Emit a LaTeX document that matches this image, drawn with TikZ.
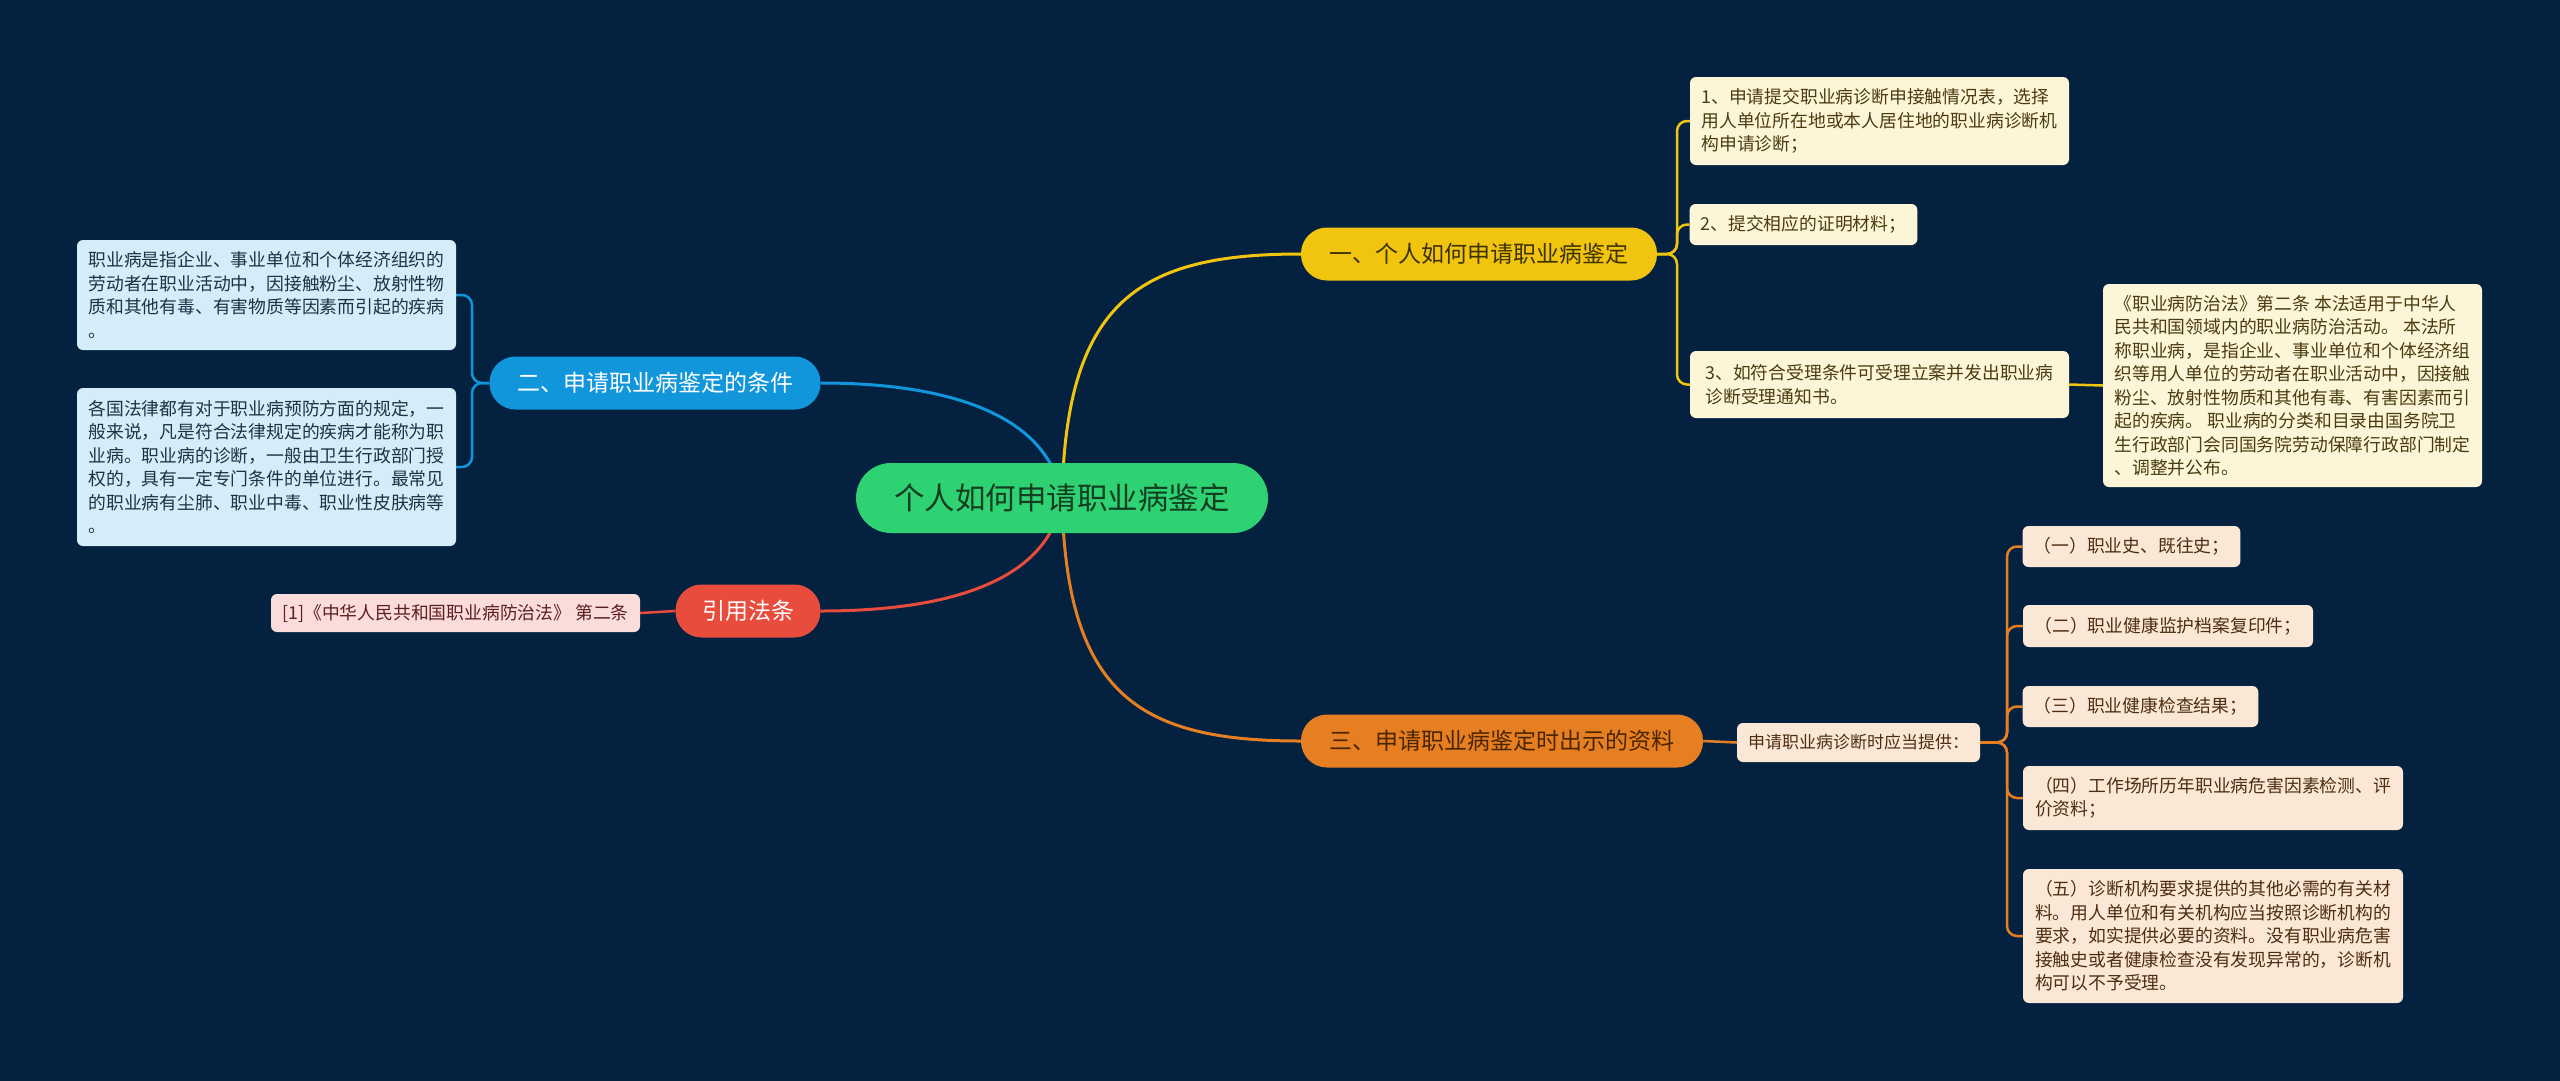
\documentclass[tikz,border=0pt]{standalone}
\usepackage{fontspec}
\setmainfont{Noto Sans CJK SC}
\usetikzlibrary{backgrounds}
\definecolor{bg}{HTML}{04223F}
\definecolor{cgreen}{HTML}{2ED273}
\definecolor{cgreentext}{HTML}{123D20}
\definecolor{cyellow}{HTML}{F1C40F}
\definecolor{cyellowtext}{HTML}{3D3300}
\definecolor{corange}{HTML}{E67E22}
\definecolor{corangetext}{HTML}{4A2500}
\definecolor{cblue}{HTML}{1296DB}
\definecolor{cred}{HTML}{E74C3C}
\definecolor{yfill}{HTML}{FDF5D8}
\definecolor{ytext}{HTML}{4A3C10}
\definecolor{bfill}{HTML}{D5EDF8}
\definecolor{btext}{HTML}{1C3347}
\definecolor{ofill}{HTML}{FBE7D6}
\definecolor{otext}{HTML}{4D2E12}
\definecolor{pfill}{HTML}{FADCDA}
\definecolor{ptext}{HTML}{5C1F1F}
\begin{document}
\begin{tikzpicture}[x=1pt,y=-1pt,
  leaf/.style={rounded corners=6pt, inner xsep=11pt, inner ysep=3pt, align=left,
    font=\fontsize{17.8}{23.5}\selectfont},
  yleaf/.style={leaf, fill=yfill, text=ytext},
  bleaf/.style={leaf, fill=bfill, text=btext},
  oleaf/.style={leaf, fill=ofill, text=otext},
  pleaf/.style={leaf, fill=pfill, text=ptext},
  pill/.style={inner sep=0pt, align=center, rounded corners=26pt, minimum height=53pt,
    font=\fontsize{23}{28}\selectfont},
  mainconn/.style={line width=3pt},
  conn/.style={line width=2.5pt, rounded corners=10pt}
]
\useasboundingbox (0,0) rectangle (2560,1080);
% nodes
\node[fill=cgreen, text=cgreentext, inner sep=0pt, rounded corners=35pt,
  minimum width=412pt, minimum height=70pt, font=\fontsize{30.5}{36}\selectfont]
  (c) at (1062,498) {个人如何申请职业病鉴定};

\node[pill, fill=cyellow, text=cyellowtext, minimum width=356pt] (yb) at (1479,254) {一、个人如何申请职业病鉴定};
\node[pill, fill=corange, text=corangetext, minimum width=402pt] (ob) at (1502,741) {三、申请职业病鉴定时出示的资料};
\node[pill, fill=cblue, text=white, minimum width=331pt] (bb) at (655,383) {二、申请职业病鉴定的条件};
\node[pill, fill=cred, text=white, minimum width=145pt] (rb) at (748,611) {引用法条};

\node[yleaf, minimum width=379pt, minimum height=88pt] (y1) at (1879.5,121)
  {1、申请提交职业病诊断申接触情况表，选择\\用人单位所在地或本人居住地的职业病诊断机\\构申请诊断；};
\node[yleaf, minimum width=227pt, minimum height=41pt] (y2) at (1803.5,224.5)
  {2、提交相应的证明材料；};
\node[yleaf, minimum width=379pt, minimum height=67pt] (y3) at (1879.5,384.5)
  {3、如符合受理条件可受理立案并发出职业病\\诊断受理通知书。};
\node[yleaf, minimum width=379pt, minimum height=203pt] (law) at (2292.5,385.5)
  {《职业病防治法》第二条 本法适用于中华人\\民共和国领域内的职业病防治活动。 本法所\\称职业病，是指企业、事业单位和个体经济组\\织等用人单位的劳动者在职业活动中，因接触\\粉尘、放射性物质和其他有毒、有害因素而引\\起的疾病。 职业病的分类和目录由国务院卫\\生行政部门会同国务院劳动保障行政部门制定\\、调整并公布。};

\node[bleaf, minimum width=379pt, minimum height=110pt] (b1) at (266.5,295)
  {职业病是指企业、事业单位和个体经济组织的\\劳动者在职业活动中，因接触粉尘、放射性物\\质和其他有毒、有害物质等因素而引起的疾病\\。};
\node[bleaf, minimum width=379pt, minimum height=158pt] (b2) at (266.5,467)
  {各国法律都有对于职业病预防方面的规定，一\\般来说，凡是符合法律规定的疾病才能称为职\\业病。职业病的诊断，一般由卫生行政部门授\\权的，具有一定专门条件的单位进行。最常见\\的职业病有尘肺、职业中毒、职业性皮肤病等\\。};

\node[pleaf, minimum width=369pt, minimum height=38pt] (p1) at (455.5,613)
  {[1]《中华人民共和国职业病防治法》 第二条};

\node[oleaf, minimum width=243pt, minimum height=39pt, font=\fontsize{17}{22}\selectfont] (sub) at (1858.5,742.5)
  {申请职业病诊断时应当提供：};
\node[oleaf, minimum width=217pt, minimum height=41pt] (o1) at (2131.5,546.5) {（一）职业史、既往史；};
\node[oleaf, minimum width=290pt, minimum height=42pt] (o2) at (2168,626) {（二）职业健康监护档案复印件；};
\node[oleaf, minimum width=235pt, minimum height=41pt] (o3) at (2140.5,706.5) {（三）职业健康检查结果；};
\node[oleaf, minimum width=380pt, minimum height=64pt] (o4) at (2213,798)
  {（四）工作场所历年职业病危害因素检测、评\\价资料；};
\node[oleaf, minimum width=380pt, minimum height=134pt] (o5) at (2213,936)
  {（五）诊断机构要求提供的其他必需的有关材\\料。用人单位和有关机构应当按照诊断机构的\\要求，如实提供必要的资料。没有职业病危害\\接触史或者健康检查没有发现异常的，诊断机\\构可以不予受理。};

% connectors
\begin{pgfonlayer}{background}
\fill[bg] (-5,-5) rectangle (2565,1085);
\draw[mainconn, cyellow] (c.center) .. controls (1066,300) and (1140,254) .. (yb.west);
\draw[mainconn, corange] (c.center) .. controls (1066,696) and (1140,741) .. (ob.west);
\draw[mainconn, cblue] (c.center) .. controls (1050,420) and (960,383) .. (bb.east);
\draw[mainconn, cred] (c.center) .. controls (1050,576) and (960,611) .. (rb.east);

\draw[conn, cyellow] (yb.east) -- (1677,254) |- (y1.west);
\draw[conn, cyellow] (yb.east) -- (1677,254) |- (y2.west);
\draw[conn, cyellow] (yb.east) -- (1677,254) |- (y3.west);
\draw[conn, cyellow] (y3.east) -- (law.west);

\draw[conn, corange] (ob.east) -- (sub.west);
\draw[conn, corange] (sub.east) -- (2007,742.5) |- (o1.west);
\draw[conn, corange] (sub.east) -- (2007,742.5) |- (o2.west);
\draw[conn, corange] (sub.east) -- (2007,742.5) |- (o3.west);
\draw[conn, corange] (sub.east) -- (2007,742.5) |- (o4.west);
\draw[conn, corange] (sub.east) -- (2007,742.5) |- (o5.west);

\draw[conn, cblue] (bb.west) -- (472,383) |- (b1.east);
\draw[conn, cblue] (bb.west) -- (472,383) |- (b2.east);

\draw[conn, cred] (rb.west) -- (p1.east);
\end{pgfonlayer}
\end{tikzpicture}
\end{document}
